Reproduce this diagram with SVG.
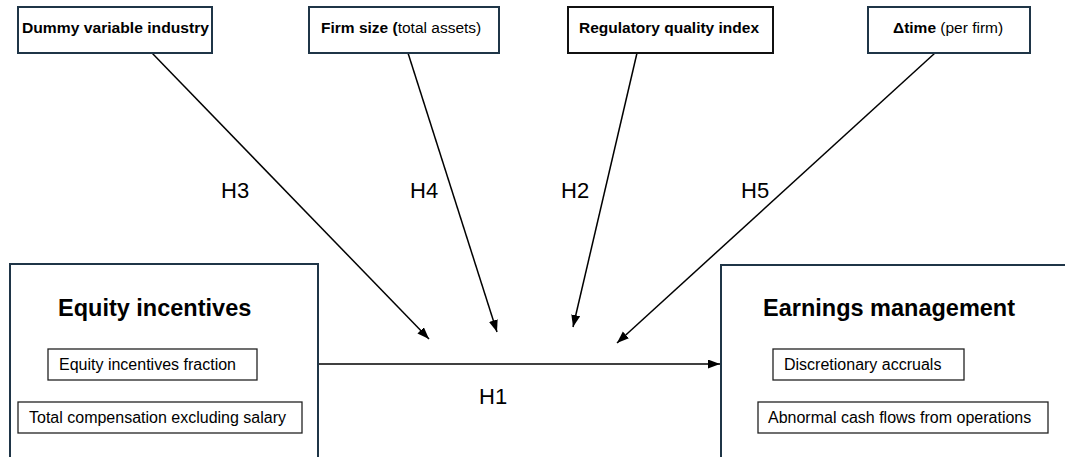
<svg xmlns="http://www.w3.org/2000/svg" width="1065" height="457" viewBox="0 0 1065 457">
  <defs>
    <marker id="arrow" markerUnits="userSpaceOnUse" markerWidth="13" markerHeight="10" refX="12" refY="4.5" orient="auto">
      <path d="M0,0 L12,4.5 L0,9 z" fill="#000"/>
    </marker>
  </defs>
  <style>
    text { font-family: "Liberation Sans", Arial, sans-serif; fill: #000; }
    .frame { fill: #fff; stroke: #1f3547; stroke-width: 2; }
    .frame-dark { fill: #fff; stroke: #111; stroke-width: 2; }
    .item { fill: #fff; stroke: #222; stroke-width: 1.3; }
    .top { font-size: 15.5px; }
    .b { font-weight: bold; }
    .title { font-size: 23.5px; font-weight: bold; }
    .sub { font-size: 16px; }
    .hyp { font-size: 22px; }
    .link { stroke: #000; stroke-width: 1.5; fill: none; marker-end: url(#arrow); }
  </style>
  <rect width="1065" height="457" fill="#fff"/>

  <!-- connectors -->
  <g id="connectors">
    <line class="link" x1="152" y1="53" x2="429" y2="339"/>
    <line class="link" x1="408" y1="53" x2="497" y2="332"/>
    <line class="link" x1="637" y1="53" x2="573" y2="327"/>
    <line class="link" x1="935" y1="53" x2="617" y2="343"/>
    <line class="link" x1="318" y1="364" x2="720" y2="364"/>
    <text class="hyp" x="221" y="198">H3</text>
    <text class="hyp" x="410" y="198">H4</text>
    <text class="hyp" x="561" y="198">H2</text>
    <text class="hyp" x="741" y="198">H5</text>
    <text class="hyp" x="479" y="404">H1</text>
  </g>

  <!-- moderators -->
  <g id="industry">
    <rect class="frame" x="18" y="7" width="194" height="46"/>
    <text class="top b" x="22" y="33" textLength="187" lengthAdjust="spacingAndGlyphs">Dummy variable industry</text>
  </g>
  <g id="firm-size">
    <rect class="frame" x="309" y="7" width="190" height="46"/>
    <text class="top" x="321" y="33"><tspan class="b">Firm size (</tspan>total assets)</text>
  </g>
  <g id="regulatory-quality">
    <rect class="frame-dark" x="568" y="7" width="205" height="46"/>
    <text class="top b" x="579" y="33">Regulatory quality index</text>
  </g>
  <g id="delta-time">
    <rect class="frame" x="868" y="7" width="162" height="46"/>
    <text class="top" x="893" y="33"><tspan class="b">Δtime</tspan> (per firm)</text>
  </g>

  <!-- independent construct -->
  <g id="equity-incentives">
    <rect class="frame" x="10" y="264" width="308" height="220"/>
    <text class="title" x="58" y="316">Equity incentives</text>
    <rect class="item" x="48" y="349" width="209" height="31"/>
    <text class="sub" x="59" y="370">Equity incentives fraction</text>
    <rect class="item" x="18" y="402" width="284" height="31"/>
    <text class="sub" x="29" y="423">Total compensation excluding salary</text>
  </g>

  <!-- dependent construct -->
  <g id="earnings-management">
    <rect class="frame" x="721" y="265" width="380" height="220"/>
    <text class="title" x="763" y="316">Earnings management</text>
    <rect class="item" x="773" y="349" width="191" height="31"/>
    <text class="sub" x="784" y="370">Discretionary accruals</text>
    <rect class="item" x="758" y="402" width="290" height="31"/>
    <text class="sub" x="768" y="423">Abnormal cash flows from operations</text>
  </g>
</svg>
